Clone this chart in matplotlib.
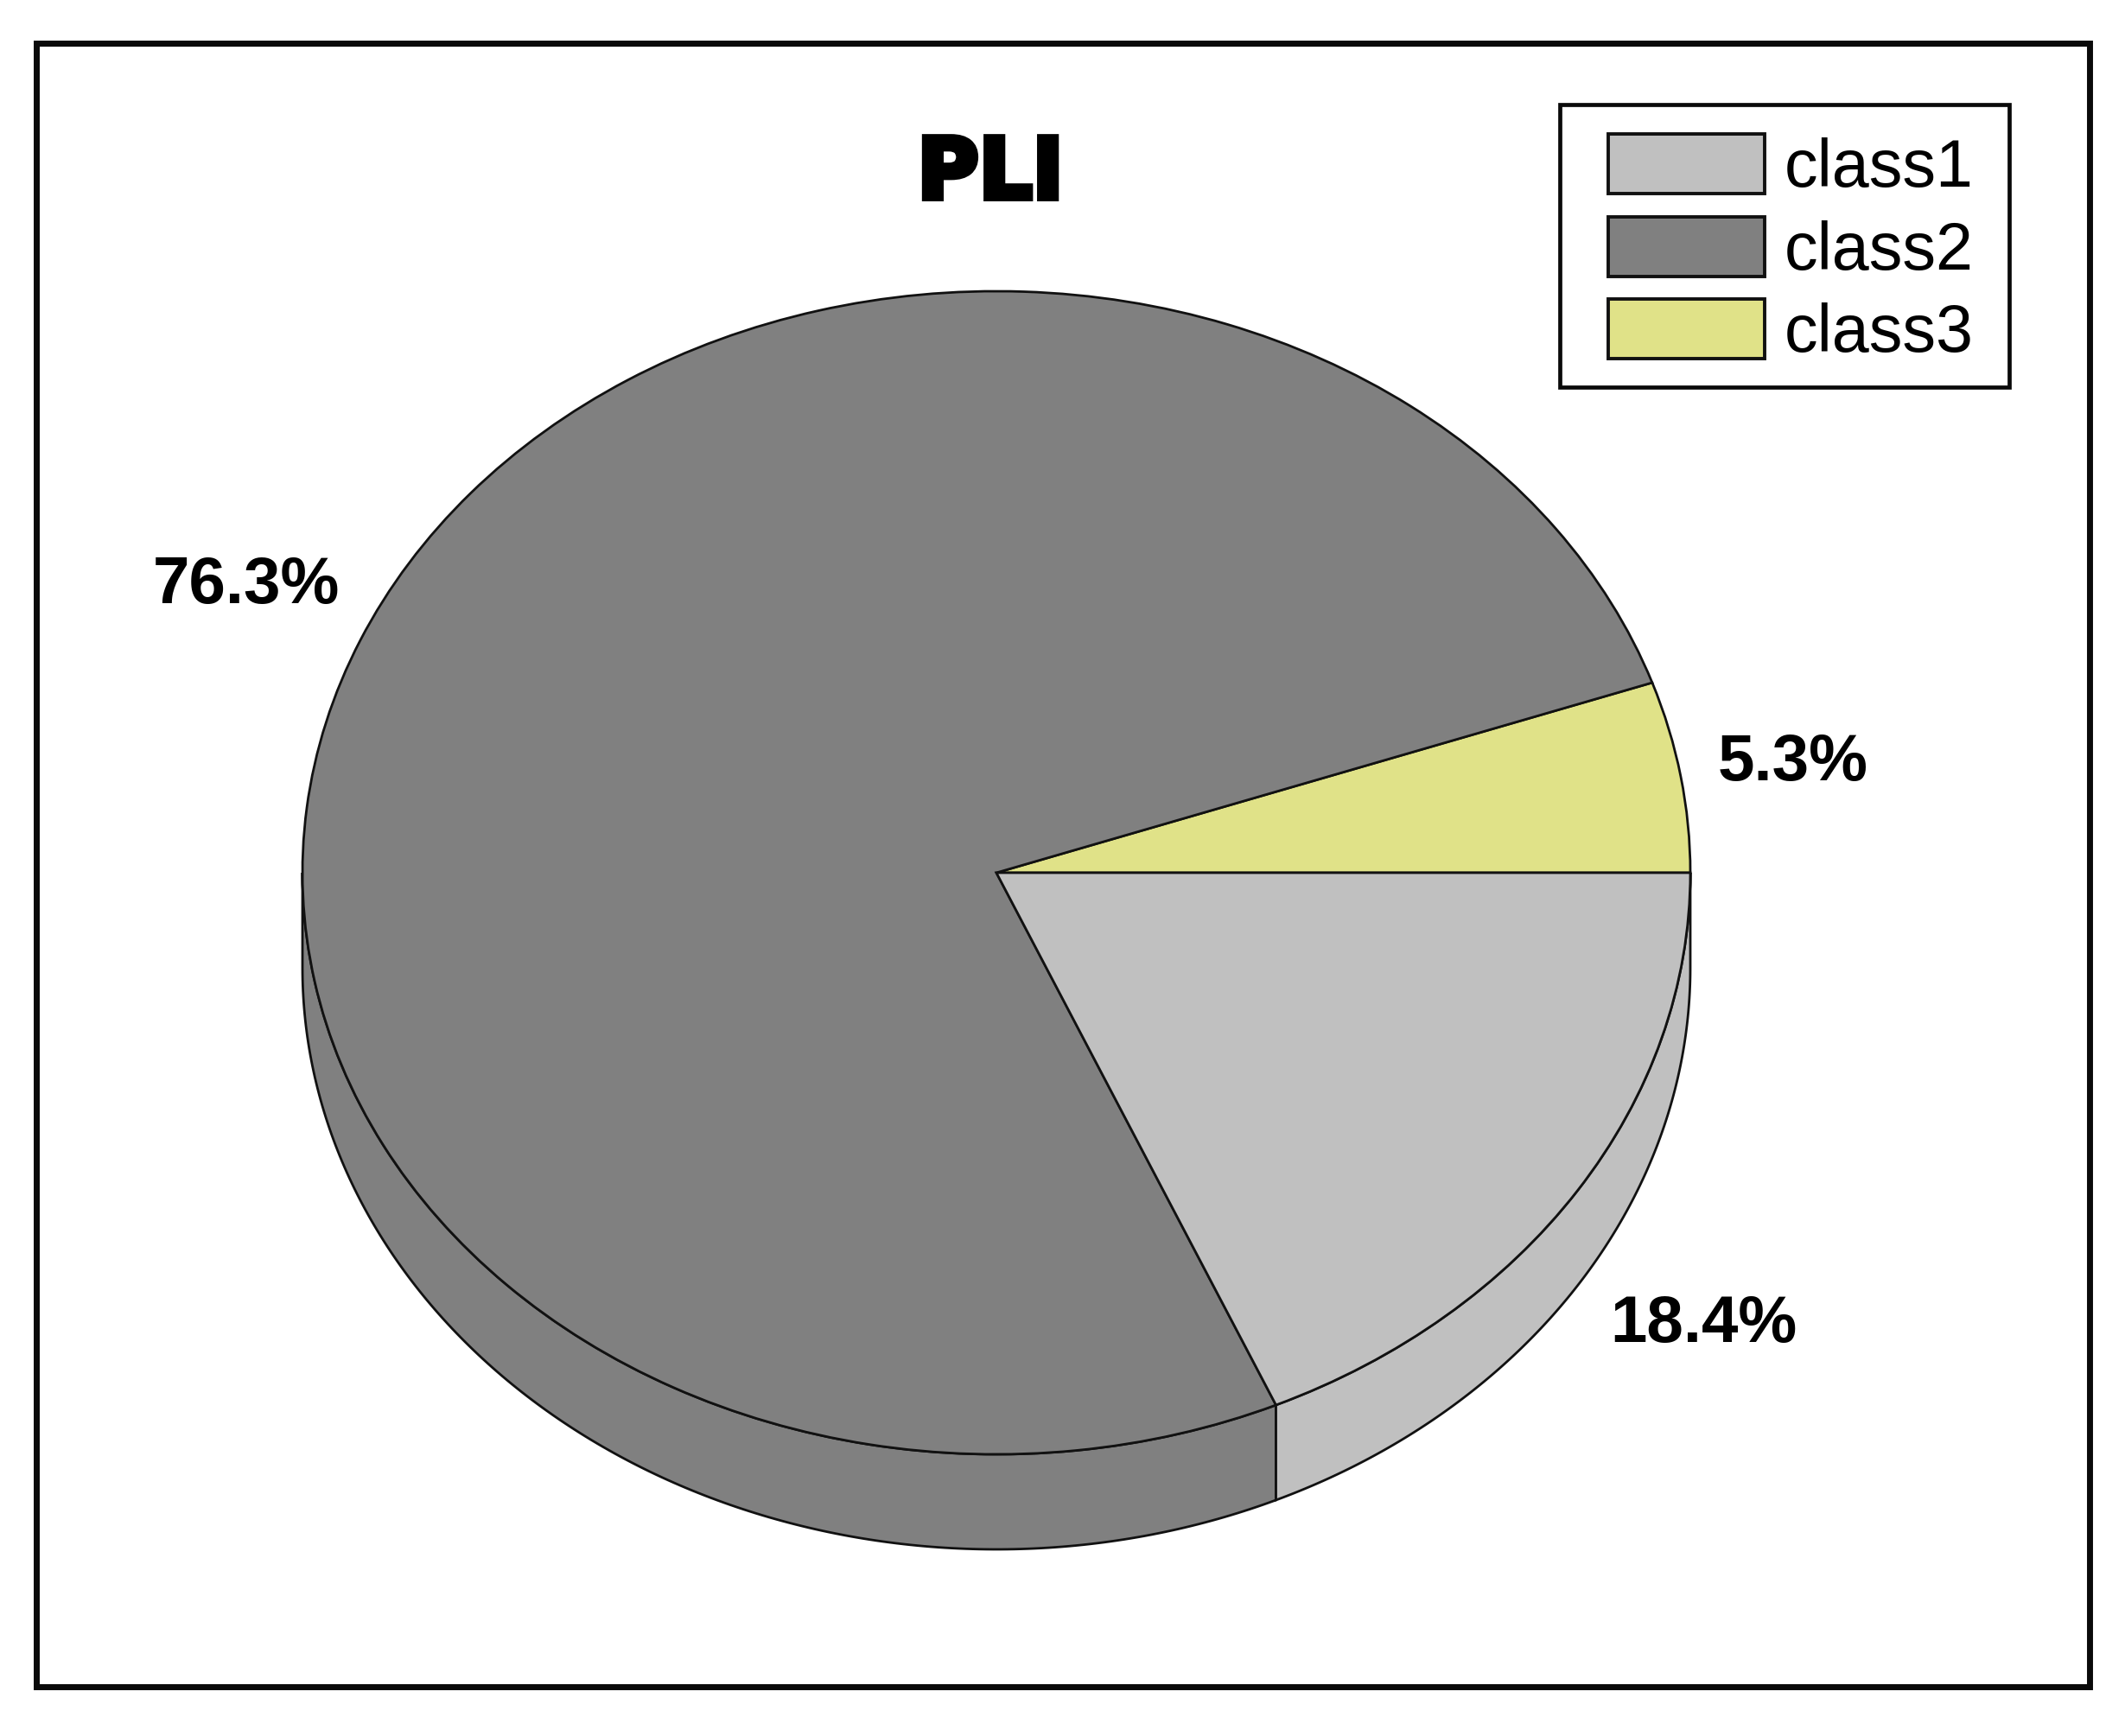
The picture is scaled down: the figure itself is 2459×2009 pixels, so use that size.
"""PLI pie chart, fake 3D."""
import numpy as np
import matplotlib
matplotlib.use("Agg")
import matplotlib.pyplot as plt
import matplotlib.patheffects as pe
from matplotlib.patches import Patch, Polygon, Rectangle

classes = ["class1", "class2", "class3"]
values = [18.4, 76.3, 5.3]
labels = ["18.4%", "76.3%", "5.3%"]
colors = ["#c0c0c0", "#808080", "#e0e288"]

W, H = 2459, 2009
plt.rcParams["font.family"] = ["Liberation Sans", "DejaVu Sans"]

fig = plt.figure(figsize=(W / 200, H / 200), dpi=200)
ax = fig.add_axes([0, 0, 1, 1])

# pixel coords of the top ellipse
cx, cy, rx, ry, depth = 1153, 1010, 803, 673, 110

# pie goes counter-clockwise from 0: class3, class2, class1
order = [2, 1, 0]
ax.pie([values[i] for i in order], colors=[colors[i] for i in order], startangle=0,
       center=(0, 0), radius=1, counterclock=True,
       wedgeprops=dict(edgecolor="#111111", linewidth=1.0, zorder=3))
ax.set_aspect("auto")
ax.set_axis_off()
# data limits so that radius 1 gives rx, ry at the right pixels
ax.set_xlim(-cx / rx, (W - cx) / rx)
ax.set_ylim(-(H - cy) / ry, cy / ry)

# side wall, below the top ellipse
def wall(a0, a1, color):
    t = np.radians(np.linspace(a0, a1, 200))
    x, y = np.cos(t), np.sin(t)
    top = np.column_stack([x, y])
    bot = np.column_stack([x, y - depth / ry])[::-1]
    ax.add_patch(Polygon(np.vstack([top, bot]), closed=True, facecolor=color,
                         edgecolor="#111111", linewidth=1.0, zorder=2))

a_split = 360 - values[0] / 100 * 360
wall(180, a_split, colors[1])
wall(a_split, 360, colors[0])

def box(x0, y0, x1, y1, lw):
    # pixel box, y measured from the top
    ax.add_patch(Rectangle((x0 / W, 1 - y1 / H), (x1 - x0) / W, (y1 - y0) / H, transform=ax.transAxes,
                           facecolor="none", edgecolor="#0a0a0a", linewidth=lw, zorder=5))

box(42, 50, 2418, 1952, 2.5)
box(1805, 121, 2325, 448, 1.7)

title = fig.text(1146 / W, 1 - 203 / H, "PLI", fontsize=35, fontweight="bold", ha="center", va="center",
                 family=["DejaVu Sans"])
title.set_path_effects([pe.withStroke(linewidth=2.5, foreground="black", joinstyle="miter")])
pos = {"18.4%": (1971, 1534), "76.3%": (285, 678), "5.3%": (2075, 883)}
for s in labels:
    fig.text(pos[s][0] / W, 1 - pos[s][1] / H, s, fontsize=27.5, fontweight="bold", ha="center", va="center")

# legend, frame is the box above
handles = [Patch(facecolor=c, edgecolor="#111111", linewidth=1.4) for c in colors]
leg = ax.legend(handles, classes, loc="upper left", bbox_to_anchor=(1861 / W, 1 - 155 / H),
                bbox_transform=fig.transFigure, fontsize=27.8, frameon=False, borderaxespad=0,
                borderpad=0, handlelength=2.34, handleheight=1.0, labelspacing=0.24,
                handletextpad=0.3)
leg.set_zorder(6)

fig.savefig("out.png", dpi=200)
print("saved out.png")
